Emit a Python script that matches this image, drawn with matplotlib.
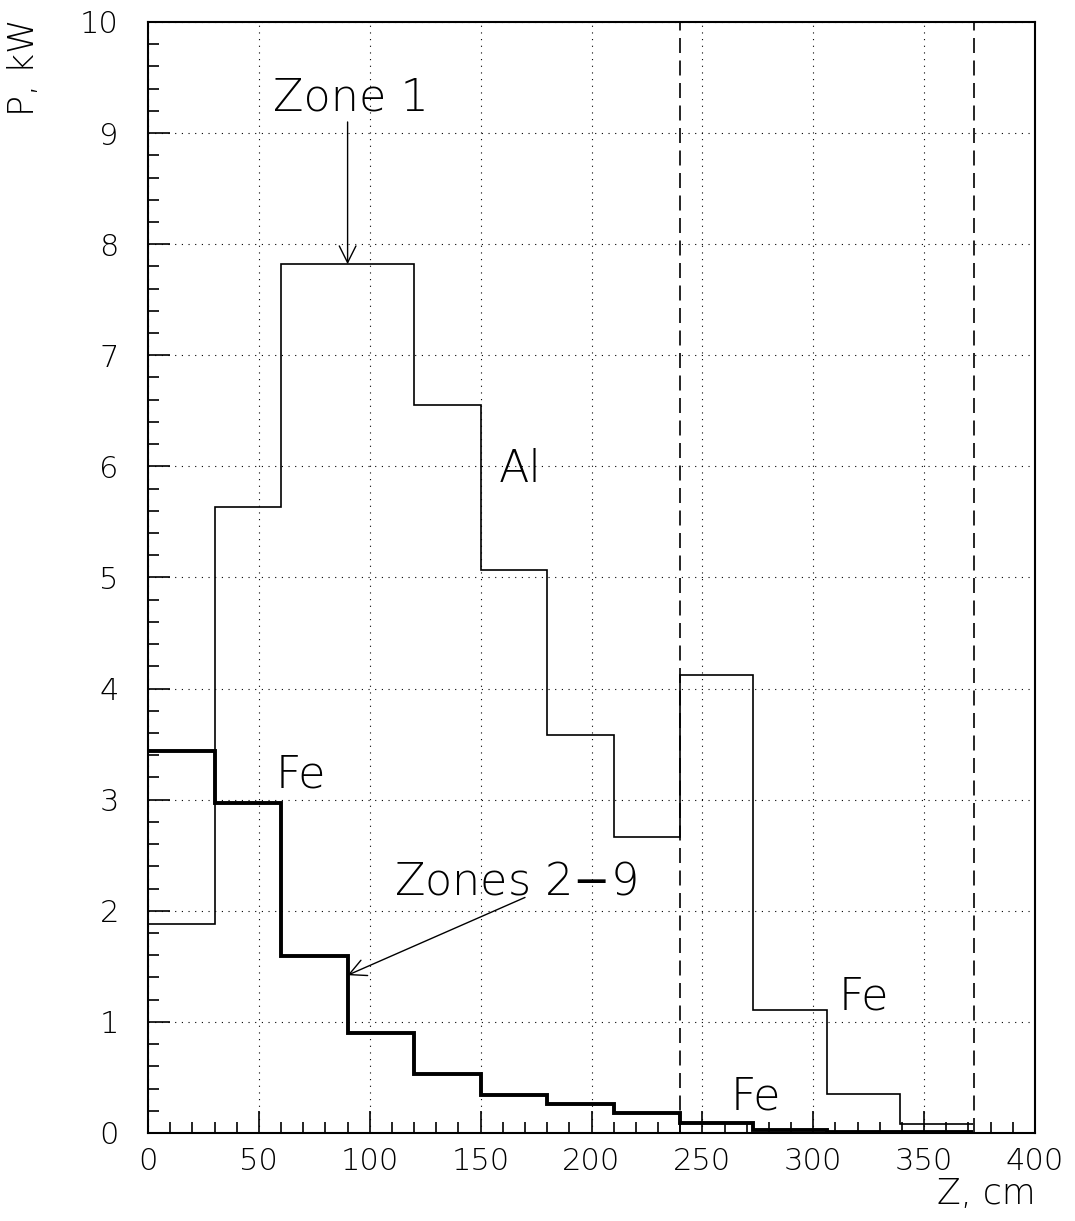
import matplotlib.pyplot as plt
from matplotlib.ticker import MultipleLocator

# bin edges along Z, cm
edges = [0, 30, 60, 90, 120, 150, 180, 210, 240, 273, 306, 339, 372]
p_al = [1.88, 5.63, 7.82, 7.82, 6.55, 5.07, 3.58, 2.66, 4.12, 1.11, 0.35, 0.08]
p_fe = [3.44, 2.97, 1.59, 0.90, 0.53, 0.34, 0.26, 0.18, 0.09, 0.03, 0.01, 0.005]
zone_bounds = [240, 372.5]

plt.rcParams['font.family'] = 'DejaVu Sans'
fig = plt.figure(figsize=(10.75, 12.21), dpi=100)
ax = fig.add_axes([0.1377, 0.0721, 0.8251, 0.9099])

ax.stairs(p_al, edges, color="black", lw=1.2, baseline=None)
ax.stairs(p_fe, edges, color="black", lw=2.8, baseline=None)
for zb in zone_bounds:
    ax.axvline(zb, color="black", lw=1.2, linestyle=(0, (9, 4.5)))

ax.set_xlim(0, 400)
ax.set_ylim(0, 10)
ax.xaxis.set_major_locator(MultipleLocator(50))
ax.xaxis.set_minor_locator(MultipleLocator(10))
ax.yaxis.set_major_locator(MultipleLocator(1))
ax.yaxis.set_minor_locator(MultipleLocator(0.2))
ax.grid(True, which="major", color="black", lw=0.8, linestyle=(0, (1, 5)))
ax.tick_params(which="both", direction="in", top=False, right=False,
               labelsize=22, width=1.2)
ax.tick_params(axis="x", which="major", length=16, pad=10)
ax.tick_params(axis="x", which="minor", length=8)
ax.tick_params(axis="y", which="major", length=16, pad=21)
ax.tick_params(axis="y", which="minor", length=8)
for lab in ax.get_xticklabels() + ax.get_yticklabels():
    lab.set_fontweight("light")
for sp in ax.spines.values():
    sp.set_linewidth(1.5)

fig.text(0.022, 0.985, "P, kW", rotation=90, ha="center", va="top",
         fontsize=25, fontweight="light")
fig.text(0.963, 0.008, "Z, cm", ha="right", va="bottom",
         fontsize=25, fontweight="light")

arrow = dict(arrowstyle="->", lw=1, color="black",
             mutation_scale=30, shrinkA=0, shrinkB=0)
ax.text(91.5, 9.2, "Zone 1", ha="center", va="baseline",
        fontsize=32, fontweight="light")
ax.annotate("", xy=(90, 7.82), xytext=(90, 9.1), arrowprops=arrow)
ax.text(111, 2.15, "Zones 2$-$9", ha="left", va="baseline",
        fontsize=32, fontweight="light")
ax.annotate("", xy=(90, 1.42), xytext=(170, 2.12), arrowprops=arrow)
ax.text(168, 5.97, "Al", ha="center", va="center", fontsize=32, fontweight="light")
ax.text(69, 3.22, "Fe", ha="center", va="center", fontsize=32, fontweight="light")
ax.text(323, 1.22, "Fe", ha="center", va="center", fontsize=32, fontweight="light")
ax.text(274, 0.32, "Fe", ha="center", va="center", fontsize=32, fontweight="light")

fig.savefig("out.png", dpi=100)
